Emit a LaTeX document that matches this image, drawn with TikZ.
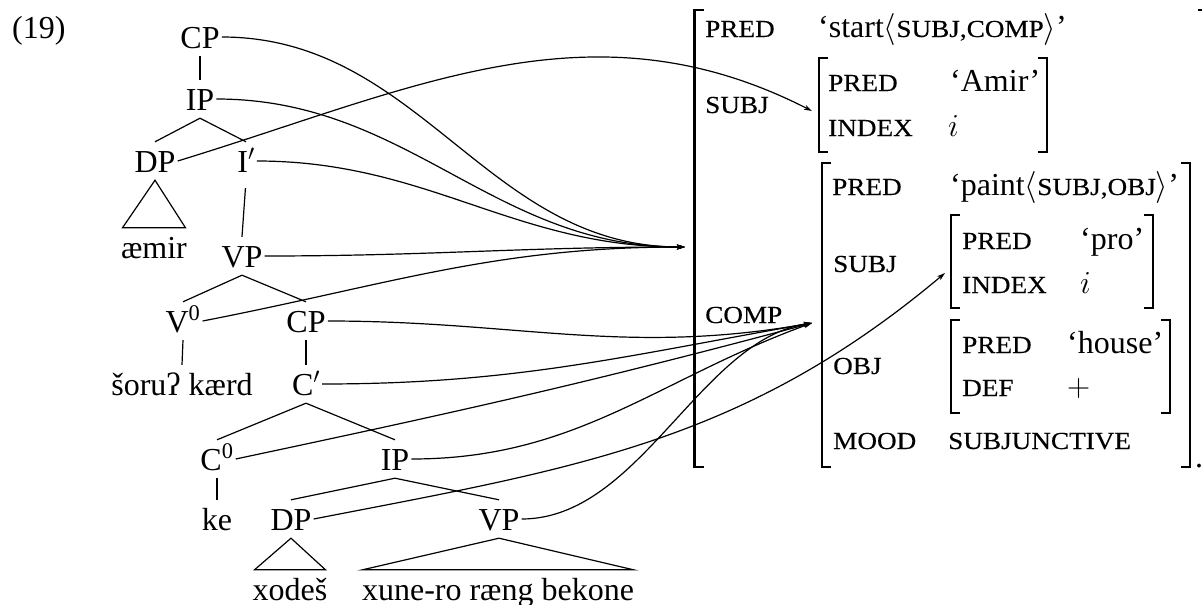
\documentclass[tikz,border=0pt]{standalone}
\usepackage{fix-cm}
\usepackage{fontspec}
\setmainfont{Liberation Serif}
\newfontfamily\fsfont[FakeStretch=1.11,FakeBold=0.3]{Liberation Serif}
\usetikzlibrary{arrows.meta,calc}
% small-caps style attribute names
\newcommand\attr[1]{{\fontsize{24.5}{29}\fsfont #1}}
% square brackets of the f-structures: x, top, bottom (y measured downwards)
\newcommand\lbrk[3]{\draw[brk] (#1+9,-#2) -- (#1,-#2) -- (#1,-#3) -- (#1+9,-#3);}
\newcommand\rbrk[3]{\draw[brk] (#1-9,-#2) -- (#1,-#2) -- (#1,-#3) -- (#1-9,-#3);}

\begin{document}
\begin{tikzpicture}[x=1pt,y=1pt,
  every node/.style={font=\fontsize{32}{38}\selectfont},
  cat/.style={anchor=base, inner xsep=2pt, inner ysep=8pt, text height=22pt, text depth=0pt},
  fs/.style={anchor=base west, inner sep=0pt},
  branch/.style={line width=1.2pt},
  link/.style={line width=1.2pt, -{Stealth[length=8pt,width=5pt,inset=2pt]}},
  brk/.style={line width=2.2pt}
]
\fill[white] (0,0) rectangle (1202,-605);
\useasboundingbox (0,0) rectangle (1202,-605);

\node[anchor=base west, inner sep=0pt] (exnum) at (12,-38) {(19)};

% ---- c-structure ----
\node[cat] (CPa) at (200,-48) {CP};
\node[cat] (IPa) at (200,-110) {IP};
\node[cat] (DPa) at (155,-172) {DP};
\node[cat] (Ibar) at (246,-172) {I$'$};
\node[cat] (aemir) at (154,-258) {æmir};
\node[cat] (VPa) at (242,-267) {VP};
\node[cat] (V0) at (183,-332) {V\textsuperscript{0}};
\node[cat] (CPb) at (306,-332) {CP};
\node[cat] (soru) at (182,-395) {šoruʔ kærd};
\node[cat] (Cbar) at (306,-395) {C$'$};
\node[cat] (C0) at (217,-470) {C\textsuperscript{0}};
\node[cat] (IPb) at (395,-470) {IP};
\node[cat] (ke) at (217,-530) {ke};
\node[cat] (DPb) at (291,-530) {DP};
\node[cat] (VPb) at (499,-530) {VP};
\node[cat] (xodes) at (290,-600) {xodeš};
\node[cat] (xune) at (498,-600) {xune-ro ræng bekone};

\draw[branch] (CPa.south) -- (IPa.north);
\draw[branch] (DPa.north) -- (IPa.south) -- (Ibar.north);
\draw[branch] (DPa.south) -- ($(aemir.north)+(-31.5,0)$) -- ($(aemir.north)+(31.5,0)$) -- cycle;
\draw[branch, shorten <=8pt] (Ibar.south) -- (VPa.north);
\draw[branch] (V0.north) -- (VPa.south) -- (CPb.north);
\draw[branch] (V0.south) -- (soru.north);
\draw[branch] (CPb.south) -- (Cbar.north);
\draw[branch] (C0.north) -- (Cbar.south) -- (IPb.north);
\draw[branch] (C0.south) -- (ke.north);
\draw[branch] (DPb.north) -- (IPb.south) -- (VPb.north);
\draw[branch] (DPb.south) -- ($(xodes.north)+(-35.5,0)$) -- ($(xodes.north)+(35.5,0)$) -- cycle;
\draw[branch] (VPb.south) -- ($(xune.north)+(-135.5,0)$) -- ($(xune.north)+(135.5,0)$) -- cycle;

% ---- f-structure ----
\lbrk{694.5}{10}{467}
\draw[brk] (1198,-10) -- (1204,-10);
\node[fs] (fPred) at (705,-37) {\attr{PRED}};
\node[fs] (fPredV) at (818,-37) {‘start$\langle$\attr{SUBJ,COMP}$\rangle$’};
\node[fs] (fSubj) at (705,-113) {\attr{SUBJ}};
\node[fs] (fComp) at (705,-323) {\attr{COMP}};

\lbrk{819}{58}{152} \rbrk{1047}{58}{152}
\node[fs] (sPred) at (828,-91) {\attr{PRED}};
\node[fs] (sPredV) at (950,-91) {‘Amir’};
\node[fs] (sIndex) at (828,-136) {\attr{INDEX}};
\node[fs] (sIndexV) at (948,-136) {$i$};

\lbrk{822}{163}{467} \rbrk{1190}{163}{467}
\node[fs] (cPred) at (832,-195) {\attr{PRED}};
\node[fs] (cPredV) at (950,-195) {‘paint$\langle$\attr{SUBJ,OBJ}$\rangle$’};
\node[fs] (cSubj) at (833,-272) {\attr{SUBJ}};
\node[fs] (cObj) at (833,-374) {\attr{OBJ}};
\node[fs] (cMood) at (833,-449) {\attr{MOOD}};
\node[fs] (cMoodV) at (948,-449) {\attr{SUBJUNCTIVE}};
\node[fs] (dot) at (1195,-467) {.};

\lbrk{951}{215}{308} \rbrk{1153}{215}{308}
\node[fs] (pPred) at (962,-249) {\attr{PRED}};
\node[fs] (pPredV) at (1080,-249) {‘pro’};
\node[fs] (pIndex) at (962,-293) {\attr{INDEX}};
\node[fs] (pIndexV) at (1080,-293) {$i$};

\lbrk{951}{320}{413} \rbrk{1170}{320}{413}
\node[fs] (hPred) at (962,-353) {\attr{PRED}};
\node[fs] (hPredV) at (1067,-353) {‘house’};
\node[fs] (hDef) at (962,-396) {\attr{DEF}};
\node[fs] (hDefV) at (1067,-396) {$+$};

% ---- correspondence arrows ----
\coordinate (toF) at (685,-247);
\coordinate (toSubj) at (812,-111);
\coordinate (toComp) at (812,-323);
\coordinate (toPro) at (945,-273);

\draw[link] (CPa.east) to[out=0,in=180] (toF);
\draw[link] (IPa.east) to[out=0,in=180] (toF);
\draw[link] (Ibar.east) to[out=0,in=180] (toF);
\draw[link] (VPa.east) to[out=0,in=180] (toF);
\draw[link] (V0.east) to[out=11,in=180] (toF);
\draw[link] (DPa.east) to[out=17,in=153] (toSubj);
\draw[link] (CPb.east) to[out=0,in=190] (toComp);
\draw[link] (Cbar.east) to[out=0,in=190] (toComp);
\draw[link] (C0.east) to[out=12,in=195] (toComp);
\draw[link] (IPb.east) to[out=0,in=200] (toComp);
\draw[link] (VPb.east) .. controls +(118,0) and +(-112,-17) .. (toComp);
\draw[link] (DPb.east) to[out=11,in=220] (toPro);
\end{tikzpicture}
\end{document}
